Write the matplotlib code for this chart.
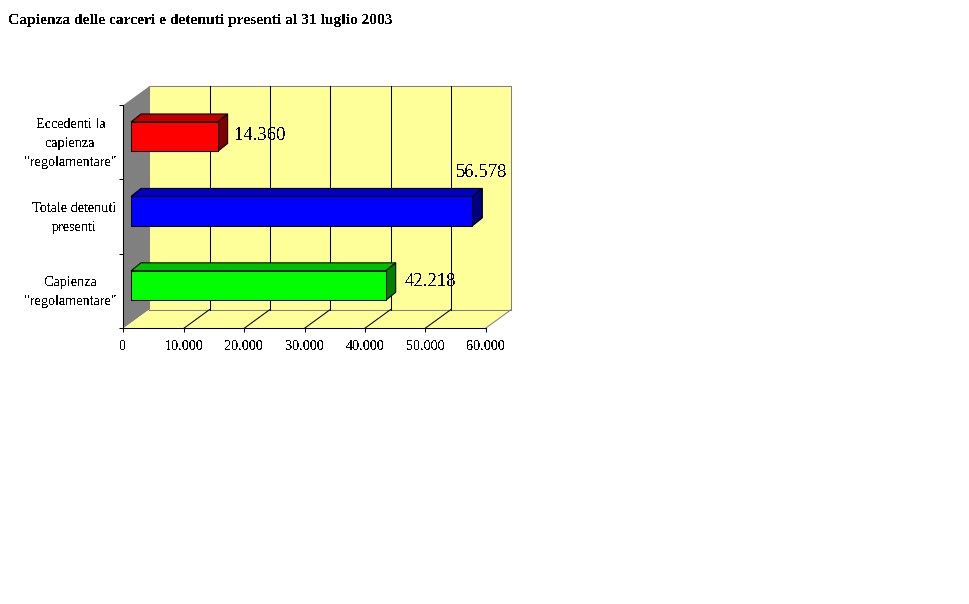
import matplotlib
matplotlib.use("Agg")
import matplotlib.pyplot as plt

plt.rcParams["font.family"] = ["Liberation Serif", "DejaVu Serif"]
plt.rcParams["text.antialiased"] = False

W, H = 970, 604
LW = 0.75  # one pixel at 100 dpi

categories = ['Capienza\n"regolamentare"', "Totale detenuti\npresenti", 'Eccedenti la\ncapienza\n"regolamentare"']
values = [42218, 56578, 14360]
value_labels = ["42.218", "56.578", "14.360"]
x_ticks = [0, 10000, 20000, 30000, 40000, 50000, 60000]
x_tick_labels = ["0", "10.000", "20.000", "30.000", "40.000", "50.000", "60.000"]
front_colors = ["#00FF00", "#0000FF", "#FF0000"]
top_colors = ["#00C000", "#0000C0", "#C00000"]
side_colors = ["#008000", "#000080", "#800000"]

# front plane of the 3d box, in pixels
LEFT, RIGHT, TOP, BOTTOM = 123.5, 485.5, 105.0, 328.3
xpx = (RIGHT - LEFT) / 60000
ypx = (BOTTOM - TOP) / 3

# depth offsets converted to data units
wall_dx, wall_dy = 25.7 / xpx, 18.7 / ypx
bar_dx, bar_dy = 10 / xpx, 8 / ypx
bar_x0 = 7.5 / xpx
bar_lift = 5.5 / ypx
bar_h = 29.5 / ypx

fig = plt.figure(figsize=(W / 100, H / 100), dpi=100)
ax = fig.add_axes([LEFT / W, 1 - BOTTOM / H, (RIGHT - LEFT) / W, (BOTTOM - TOP) / H])
ax.patch.set_visible(False)
ax.set_xlim(0, 60000)
ax.set_ylim(0, 3)

# walls
ax.fill([wall_dx, 60000 + wall_dx, 60000 + wall_dx, wall_dx],
        [wall_dy, wall_dy, 3 + wall_dy, 3 + wall_dy],
        fc="#FFFF99", ec="#808080", lw=LW, clip_on=False, zorder=1)
ax.fill([0, wall_dx, wall_dx, 0], [0, wall_dy, 3 + wall_dy, 3],
        fc="#808080", ec="none", clip_on=False, zorder=1)
ax.fill([0, 60000, 60000 + wall_dx, wall_dx], [0, 0, wall_dy, wall_dy],
        fc="#FFFF99", ec="none", clip_on=False, zorder=1)
ax.plot([60000, 60000 + wall_dx], [0, wall_dy], color="#808080", lw=LW, clip_on=False, zorder=2)
ax.plot([wall_dx, 60000 + wall_dx], [wall_dy, wall_dy], color="#808080", lw=LW, clip_on=False, zorder=2)

# gridlines on back wall and floor
for t in x_ticks[1:-1]:
    ax.plot([t + wall_dx, t + wall_dx], [wall_dy, 3 + wall_dy], color="black", lw=LW, clip_on=False, zorder=2)
    ax.plot([t, t + wall_dx], [0, wall_dy], color="black", lw=LW, clip_on=False, zorder=2)

# bars
for i, v in enumerate(values):
    y0 = i + 0.5 + bar_lift - bar_h / 2
    y1 = y0 + bar_h
    x1 = bar_x0 + v
    ax.fill([bar_x0, bar_x0 + bar_dx, x1 + bar_dx, x1], [y1, y1 + bar_dy, y1 + bar_dy, y1],
            fc=top_colors[i], ec="black", lw=LW, clip_on=False, zorder=3)
    ax.fill([x1, x1 + bar_dx, x1 + bar_dx, x1], [y0, y0 + bar_dy, y1 + bar_dy, y1],
            fc=side_colors[i], ec="black", lw=LW, clip_on=False, zorder=3)
    ax.barh(i + 0.5 + bar_lift, v, left=bar_x0, height=bar_h, color=front_colors[i],
            edgecolor="black", lw=LW, clip_on=False, zorder=4)

# value labels, offset in pixels from the bar end
label_off = [(19, 4), (-16.5, 39), (17, 1.5)]
for i, v in enumerate(values):
    off = label_off[i]
    ax.annotate(value_labels[i], xy=(bar_x0 + v, i + 0.5 + bar_lift), xytext=(off[0] * 0.72, off[1] * 0.72),
                textcoords="offset points", fontsize=13.4, ha="left", va="center",
                annotation_clip=False, zorder=5)

for s in ["top", "right"]:
    ax.spines[s].set_visible(False)
for s in ["left", "bottom"]:
    ax.spines[s].set_linewidth(LW)
    ax.spines[s].set_zorder(2.5)

ax.set_xticks(x_ticks)
ax.set_xticklabels(x_tick_labels, fontsize=10.3)
ax.tick_params(axis="x", length=3, width=LW, pad=5.5)

ax.set_yticks([0, 1, 2, 3])
ax.set_yticklabels([])
ax.tick_params(axis="y", which="major", length=3, width=LW)

# category labels, pixels left of the axis
cat_off = [-53, -49.5, -53]
for i, name in enumerate(categories):
    ax.annotate(name, xy=(0, i + 0.5), xytext=(cat_off[i] * 0.72, -0.9), textcoords="offset points",
                fontsize=10.3, ha="center", va="center", linespacing=1.6, annotation_clip=False)

fig.text(8 / W, 1 - 20.5 / H, "Capienza delle carceri e detenuti presenti al 31 luglio 2003",
         fontsize=11.15, fontweight="bold", ha="left", va="center")

fig.savefig("out.png", dpi=100, facecolor="white")
plt.close()
